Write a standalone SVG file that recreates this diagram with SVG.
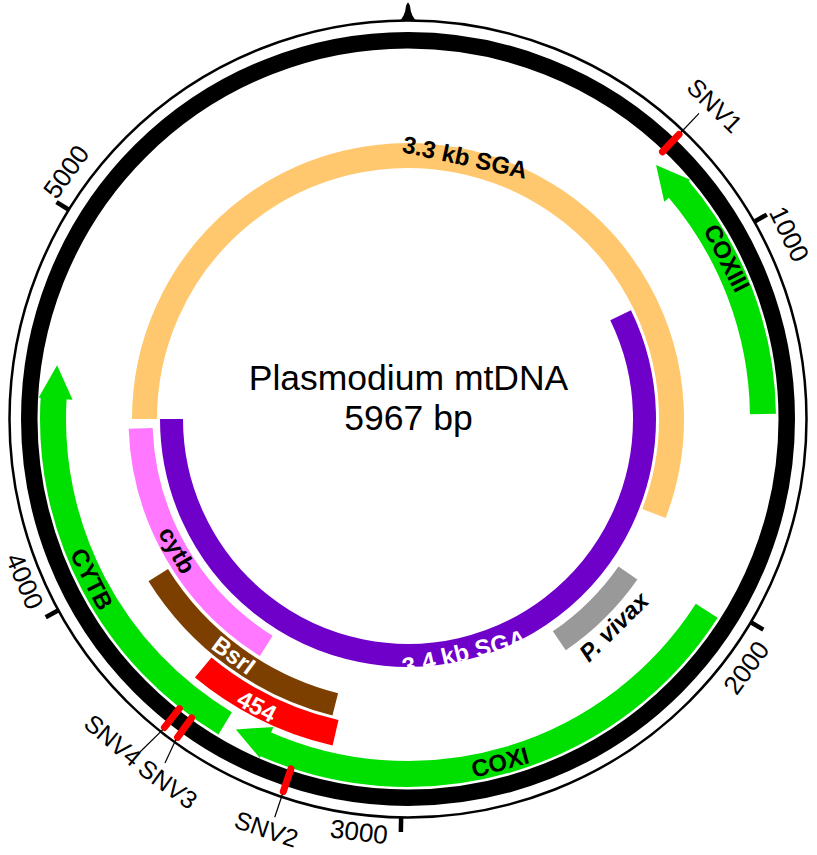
<svg xmlns="http://www.w3.org/2000/svg" width="817" height="855" viewBox="0 0 817 855">
<style>
text { font-family: "Liberation Sans", Arial, sans-serif; text-anchor: middle; }
.band { fill: none; stroke-linecap: butt; }
.lbl { font-weight: bold; font-size: 24px; }
.num { font-size: 26px; }
.snv { font-size: 25px; }
.tick { stroke: #000; stroke-width: 4.5; }
.mark { stroke: #f00; stroke-width: 7; stroke-linecap: round; }
.lead { stroke: #000; stroke-width: 1.2; }
.green { fill: #00E000; }
</style>
<rect width="817" height="855" fill="#fff"/>
<g id="backbone">
  <circle cx="408" cy="419" r="398.5" fill="none" stroke="#000" stroke-width="2.5"/>
  <circle cx="408" cy="419" r="378.75" fill="none" stroke="#000" stroke-width="16.5"/>
  <path d="M399,21 Q405,17 406,6 Q408,-1 410,6 Q411,17 417,21 Z" fill="#000"/>
  <line class="tick" x1="754.70" y1="221.51" x2="766.86" y2="214.58"/>
  <line class="tick" x1="751.28" y1="622.45" x2="763.32" y2="629.59"/>
  <line class="tick" x1="401.11" y1="817.94" x2="400.86" y2="831.94"/>
  <line class="tick" x1="57.99" y1="610.50" x2="45.71" y2="617.22"/>
  <line class="tick" x1="68.43" y1="209.49" x2="56.52" y2="202.14"/>
</g>
<g id="scale-labels">
  <text class="num" transform="translate(789.5,234) rotate(64.1)" y="9.3">1000</text>
  <text class="num" transform="translate(746,667.5) rotate(-53.7)" y="9.3">2000</text>
  <text class="num" transform="translate(359,831.5) rotate(6.8)" y="9.3">3000</text>
  <text class="num" transform="translate(25,581) rotate(67.1)" y="9.3">4000</text>
  <text class="num" transform="translate(66,171.5) rotate(-54.1)" y="9.3">5000</text>
</g>
<g id="title">
  <text x="408.5" y="390" font-size="35.5">Plasmodium mtDNA</text>
  <text x="408.5" y="430" font-size="35.5">5967 bp</text>
</g>
<g id="sga33">
  <path class="band" d="M144.5,419 A263.5,263.5 0 1 1 654.0,513.4" stroke="#FFC86E" stroke-width="25"/>
  <text class="lbl" transform="translate(465,157) rotate(12.2)" y="8.6">3.3 kb SGA</text>
</g>
<g id="sga34">
  <path class="band" d="M620.6,315.3 A236.5,236.5 0 1 1 171.5,419" stroke="#6F00C9" stroke-width="23"/>
  <text class="lbl" fill="#fff" transform="translate(464,652) rotate(-13.6)" y="8.6">3.4 kb SGA</text>
</g>
<g id="cytb">
  <path class="band" d="M266.25,645.85 A267.5,267.5 0 0 1 140.66,428.34" stroke="#FF78FF" stroke-width="24"/>
  <text class="lbl" transform="translate(175.5,551) rotate(60.4)" y="6.5">cytb</text>
</g>
<g id="bsri">
  <path class="band" d="M335.26,704.38 A294.5,294.5 0 0 1 158.25,575.06" stroke="#7D3F00" stroke-width="23"/>
  <text class="lbl" fill="#fff" transform="translate(234,655) rotate(36.4)" y="8.6">BsrI</text>
</g>
<g id="amp454">
  <path class="band" d="M335.57,732.75 A322,322 0 0 1 203.18,667.46" stroke="#FF0000" stroke-width="26"/>
  <text class="lbl" fill="#fff" transform="translate(257,706) rotate(27.75)" y="8.6">454</text>
</g>
<g id="pvivax">
  <path class="band" d="M627.94,573.0 A268.5,268.5 0 0 1 559.31,640.81" stroke="#999999" stroke-width="23"/>
  <text class="lbl" font-style="italic" transform="translate(613.5,626.5) rotate(-44.7)" y="8.6">P. vivax</text>
</g>
<g id="coxiii">
  <path class="band" d="M676.74,187.04 A355,355 0 0 1 762.97,414.04" stroke="#00E000" stroke-width="26"/>
  <polygon class="green" points="656.08,165.07 690.19,179.69 664.26,201.68"/>
  <text class="lbl" transform="translate(727,258) rotate(63)" y="8.6">COXIII</text>
</g>
<g id="coxi">
  <path class="band" d="M706.74,610.79 A355,355 0 0 1 263.04,743.05" stroke="#00E000" stroke-width="26"/>
  <polygon class="green" points="235.89,729.49 259.87,758.05 273.48,726.90"/>
  <text class="lbl" transform="translate(500,762) rotate(-15)" y="8.6">COXI</text>
</g>
<g id="cytb-gene">
  <path class="band" d="M225.16,723.30 A355,355 0 0 1 53.78,395.47" stroke="#00E000" stroke-width="26"/>
  <polygon class="green" points="57.09,365.30 38.61,397.70 72.56,399.66"/>
  <text class="lbl" transform="translate(92,579) rotate(63.1)" y="8.6">CYTB</text>
</g>
<g id="snv1">
  <line class="mark" x1="662.47" y1="151.78" x2="679.02" y2="134.40"/>
  <text class="snv" transform="translate(715,105.5) rotate(44.4)" y="9">SNV1</text>
</g>
<g id="snv2">
  <line class="mark" x1="290.92" y1="768.93" x2="283.30" y2="791.69"/>
  <text class="snv" transform="translate(266.5,829) rotate(19)" y="9">SNV2</text>
</g>
<g id="snv3">
  <line class="mark" x1="191.63" y1="717.90" x2="177.56" y2="737.35"/>
  <text class="snv" transform="translate(168,784) rotate(36)" y="9">SNV3</text>
</g>
<g id="snv4">
  <line class="mark" x1="179.34" y1="708.61" x2="164.47" y2="727.45"/>
  <text class="snv" transform="translate(113,740) rotate(40)" y="9">SNV4</text>
</g>
<g id="connectors">
  <line class="lead" x1="681.09" y1="132.23" x2="699.02" y2="113.40"/>
  <line class="lead" x1="282.35" y1="794.53" x2="274.73" y2="817.29"/>
  <line class="lead" x1="175.80" y1="739.78" x2="165" y2="763"/>
  <line class="lead" x1="162.60" y1="729.81" x2="140" y2="752"/>
</g>
</svg>
